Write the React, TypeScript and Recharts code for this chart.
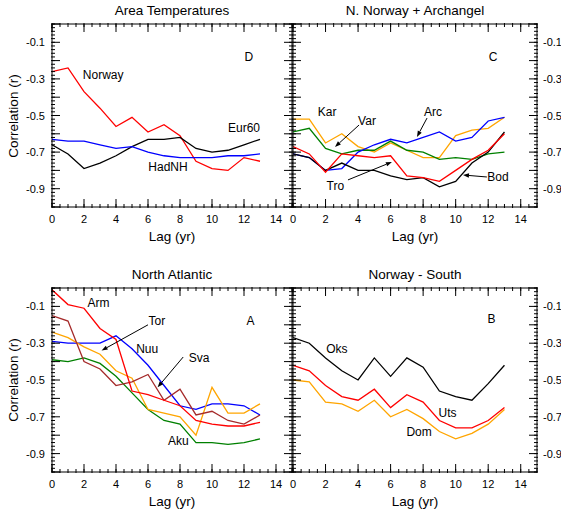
import React from 'react';
import { LineChart, Line, XAxis, YAxis, ReferenceDot, ReferenceLine } from 'recharts';

const W = 561;
const H = 509;
const FONT = '"Liberation Sans", Arial, Helvetica, sans-serif';

const lags = [0, 1, 2, 3, 4, 5, 6, 7, 8, 9, 10, 11, 12, 13];

// Panel D - Area Temperatures
const dNorway = [-0.26, -0.24, -0.37, -0.46, -0.56, -0.51, -0.59, -0.55, -0.61, -0.75, -0.79, -0.8, -0.73, -0.75];
const dEur60 = [-0.66, -0.71, -0.79, -0.76, -0.72, -0.67, -0.63, -0.63, -0.62, -0.68, -0.7, -0.69, -0.66, -0.63];
const dHadNH = [-0.63, -0.64, -0.64, -0.66, -0.68, -0.67, -0.7, -0.72, -0.73, -0.73, -0.73, -0.72, -0.72, -0.71];

// Panel C - N. Norway + Archangel
const cKar = [-0.52, -0.52, -0.65, -0.6, -0.67, -0.7, -0.65, -0.69, -0.73, -0.73, -0.61, -0.58, -0.57, -0.51];
const cVar = [-0.59, -0.57, -0.68, -0.71, -0.69, -0.69, -0.64, -0.69, -0.7, -0.74, -0.73, -0.74, -0.71, -0.7];
const cArc = [-0.71, -0.73, -0.8, -0.79, -0.7, -0.66, -0.63, -0.65, -0.62, -0.59, -0.64, -0.62, -0.53, -0.51];
const cTro = [-0.67, -0.71, -0.81, -0.71, -0.72, -0.73, -0.72, -0.83, -0.84, -0.86, -0.8, -0.74, -0.69, -0.6];
const cBod = [-0.71, -0.73, -0.8, -0.76, -0.8, -0.8, -0.83, -0.85, -0.84, -0.89, -0.86, -0.76, -0.7, -0.59];

// Panel A - North Atlantic
const aArm = [-0.01, -0.09, -0.11, -0.22, -0.28, -0.56, -0.58, -0.61, -0.64, -0.72, -0.74, -0.75, -0.75, -0.73];
const aTor = [-0.24, -0.27, -0.32, -0.36, -0.45, -0.49, -0.66, -0.68, -0.7, -0.8, -0.54, -0.68, -0.68, -0.63];
const aNuu = [-0.29, -0.3, -0.3, -0.3, -0.26, -0.33, -0.42, -0.53, -0.64, -0.66, -0.63, -0.63, -0.64, -0.69];
const aSva = [-0.15, -0.18, -0.4, -0.44, -0.53, -0.51, -0.47, -0.61, -0.55, -0.69, -0.67, -0.72, -0.74, -0.69];
const aAku = [-0.39, -0.4, -0.38, -0.41, -0.48, -0.57, -0.66, -0.72, -0.74, -0.84, -0.84, -0.85, -0.84, -0.82];

// Panel B - Norway - South
const bOks = [-0.27, -0.3, -0.38, -0.45, -0.5, -0.38, -0.48, -0.38, -0.43, -0.56, -0.59, -0.61, -0.52, -0.42];
const bUts = [-0.42, -0.45, -0.53, -0.59, -0.61, -0.55, -0.65, -0.58, -0.62, -0.72, -0.76, -0.76, -0.72, -0.65];
const bDom = [-0.5, -0.51, -0.62, -0.63, -0.67, -0.61, -0.7, -0.66, -0.71, -0.78, -0.82, -0.79, -0.74, -0.66];

// Axis ticks and labels
const xMajorTicks = [0, 2, 4, 6, 8, 10, 12, 14];
const xMinorTicks = Array.from({ length: 31 }, (_, i) => i * 0.5);
const xTickLabels = [0, 2, 4, 6, 8, 10, 12, 14];
const yMajorTicks = Array.from({ length: 11 }, (_, i) => -i / 10);
const yMinorTicks = Array.from({ length: 51 }, (_, i) => -i / 50);
const yTickLabels = [-0.1, -0.3, -0.5, -0.7, -0.9];

const RED = '#ff0000';
const BLUE = '#0000ff';
const BLACK = '#000000';
const GREEN = '#008000';
const ORANGE = '#ffa500';
const BROWN = '#a52a2a';

type Series = { key: string; values: number[]; color: string };
type Note = { text: string; x: number; y: number };
type Arrow = { from: [number, number]; to: [number, number] };

type PanelDef = {
  title: string;
  box: { x0: number; x1: number; y0: number; y1: number };
  series: Series[];
  notes: Note[];
  arrows: Arrow[];
  leftLabels: boolean;
  rightLabels: boolean;
};

const panels: PanelDef[] = [
  {
    title: 'Area Temperatures',
    box: { x0: 52, x1: 292, y0: 24, y1: 207 },
    series: [
      { key: 'Norway', values: dNorway, color: RED },
      { key: 'Eur60', values: dEur60, color: BLACK },
      { key: 'HadNH', values: dHadNH, color: BLUE },
    ],
    notes: [
      { text: 'D', x: 12.3, y: -0.18 },
      { text: 'Norway', x: 3.2, y: -0.28 },
      { text: 'HadNH', x: 7.25, y: -0.78 },
      { text: 'Eur60', x: 12.0, y: -0.57 },
    ],
    arrows: [],
    leftLabels: true,
    rightLabels: false,
  },
  {
    title: 'N. Norway + Archangel',
    box: { x0: 293, x1: 537, y0: 24, y1: 207 },
    series: [
      { key: 'Kar', values: cKar, color: ORANGE },
      { key: 'Var', values: cVar, color: GREEN },
      { key: 'Arc', values: cArc, color: BLUE },
      { key: 'Bod', values: cBod, color: BLACK },
      { key: 'Tro', values: cTro, color: RED },
    ],
    notes: [
      { text: 'C', x: 12.3, y: -0.18 },
      { text: 'Kar', x: 2.1, y: -0.48 },
      { text: 'Var', x: 4.55, y: -0.53 },
      { text: 'Arc', x: 8.6, y: -0.48 },
      { text: 'Tro', x: 2.6, y: -0.885 },
      { text: 'Bod', x: 12.6, y: -0.836 },
    ],
    arrows: [
      { from: [4.06, -0.552], to: [2.58, -0.672] },
      { from: [8.24, -0.514], to: [7.62, -0.617] },
      { from: [3.38, -0.852], to: [6.08, -0.754] },
      { from: [11.92, -0.836], to: [10.45, -0.825] },
    ],
    leftLabels: false,
    rightLabels: true,
  },
  {
    title: 'North Atlantic',
    box: { x0: 52, x1: 292, y0: 288, y1: 472 },
    series: [
      { key: 'Aku', values: aAku, color: GREEN },
      { key: 'Nuu', values: aNuu, color: BLUE },
      { key: 'Tor', values: aTor, color: ORANGE },
      { key: 'Sva', values: aSva, color: BROWN },
      { key: 'Arm', values: aArm, color: RED },
    ],
    notes: [
      { text: 'A', x: 12.4, y: -0.18 },
      { text: 'Arm', x: 2.9, y: -0.08 },
      { text: 'Tor', x: 6.55, y: -0.18 },
      { text: 'Nuu', x: 5.95, y: -0.33 },
      { text: 'Sva', x: 9.2, y: -0.38 },
      { text: 'Aku', x: 7.9, y: -0.83 },
    ],
    arrows: [
      { from: [6.0, -0.2], to: [3.1, -0.34] },
      { from: [8.2, -0.375], to: [6.6, -0.54] },
    ],
    leftLabels: true,
    rightLabels: false,
  },
  {
    title: 'Norway - South',
    box: { x0: 293, x1: 537, y0: 288, y1: 472 },
    series: [
      { key: 'Oks', values: bOks, color: BLACK },
      { key: 'Dom', values: bDom, color: ORANGE },
      { key: 'Uts', values: bUts, color: RED },
    ],
    notes: [
      { text: 'B', x: 12.2, y: -0.17 },
      { text: 'Oks', x: 2.7, y: -0.33 },
      { text: 'Uts', x: 9.5, y: -0.68 },
      { text: 'Dom', x: 7.75, y: -0.78 },
    ],
    arrows: [],
    leftLabels: false,
    rightLabels: true,
  },
];

const near = (a: number, b: number) => Math.abs(a - b) < 1e-6;

const makeTick = (labels: number[], fmt: (v: number) => string, baseline: string) => (props: any) => {
  const { x, y, payload, textAnchor } = props;
  const v = payload.value;
  if (!labels.some((l) => near(l, v))) return <g />;
  return (
    <text x={x} y={y} textAnchor={textAnchor} dominantBaseline={baseline} fontSize={11} fontFamily={FONT} fill="#000">
      {fmt(v)}
    </text>
  );
};

const emptyTick = () => <g />;

const arrowShape = (p: any) => {
  const { x1, y1, x2, y2 } = p;
  const ang = Math.atan2(y2 - y1, x2 - x1);
  const len = 6;
  const half = 2.2;
  const bx = x2 - len * Math.cos(ang);
  const by = y2 - len * Math.sin(ang);
  const px = -Math.sin(ang) * half;
  const py = Math.cos(ang) * half;
  return (
    <g>
      <line x1={x1} y1={y1} x2={bx} y2={by} stroke="#000" strokeWidth={1} />
      <polygon points={`${x2},${y2} ${bx + px},${by + py} ${bx - px},${by - py}`} fill="#000" />
    </g>
  );
};

const AX = 1; // thickness reserved by each axis

function Panel({ def }: { def: PanelDef }) {
  const { box } = def;
  const data = lags.map((lag, i) => {
    const row: Record<string, number> = { lag };
    def.series.forEach((s) => {
      row[s.key] = s.values[i];
    });
    return row;
  });
  const margin = {
    left: box.x0 - 2 * AX,
    right: W - box.x1 - 2 * AX,
    top: box.y0 - 2 * AX,
    bottom: H - box.y1 - 2 * AX,
  };
  const fmtY = (v: number) => v.toFixed(1);
  const fmtX = (v: number) => String(v);
  return (
    <div style={{ position: 'absolute', left: 0, top: 0, width: W, height: H }}>
      <LineChart width={W} height={H} data={data} margin={margin}>
        <XAxis xAxisId="xb" dataKey="lag" type="number" domain={[0, 15]} allowDataOverflow orientation="bottom"
          height={AX} ticks={xMajorTicks} interval={0} tickSize={-8} tickMargin={19.5} stroke="#000"
          tickLine={{ stroke: '#000' }} axisLine={{ stroke: '#000' }}
          tick={makeTick(xTickLabels, fmtX, 'central')} />
        <XAxis xAxisId="xbm" dataKey="lag" type="number" domain={[0, 15]} allowDataOverflow orientation="bottom"
          height={AX} ticks={xMinorTicks} interval={0} tickSize={-4} stroke="#000"
          tickLine={{ stroke: '#000' }} axisLine={false} tick={emptyTick} />
        <XAxis xAxisId="xt" dataKey="lag" type="number" domain={[0, 15]} allowDataOverflow orientation="top"
          height={AX} ticks={xMajorTicks} interval={0} tickSize={-8} stroke="#000"
          tickLine={{ stroke: '#000' }} axisLine={{ stroke: '#000' }} tick={emptyTick} />
        <XAxis xAxisId="xtm" dataKey="lag" type="number" domain={[0, 15]} allowDataOverflow orientation="top"
          height={AX} ticks={xMinorTicks} interval={0} tickSize={-4} stroke="#000"
          tickLine={{ stroke: '#000' }} axisLine={false} tick={emptyTick} />
        <YAxis yAxisId="yl" type="number" domain={[-1, 0]} allowDataOverflow orientation="left" width={AX}
          ticks={yMajorTicks} interval={0} tickSize={-8} tickMargin={15} stroke="#000"
          tickLine={{ stroke: '#000' }} axisLine={{ stroke: '#000' }}
          tick={def.leftLabels ? makeTick(yTickLabels, fmtY, 'central') : emptyTick} />
        <YAxis yAxisId="ylm" type="number" domain={[-1, 0]} allowDataOverflow orientation="left" width={AX}
          ticks={yMinorTicks} interval={0} tickSize={-4} stroke="#000"
          tickLine={{ stroke: '#000' }} axisLine={false} tick={emptyTick} />
        <YAxis yAxisId="yr" type="number" domain={[-1, 0]} allowDataOverflow orientation="right" width={AX}
          ticks={yMajorTicks} interval={0} tickSize={-8} tickMargin={14} stroke="#000"
          tickLine={{ stroke: '#000' }} axisLine={{ stroke: '#000' }}
          tick={def.rightLabels ? makeTick(yTickLabels, fmtY, 'central') : emptyTick} />
        <YAxis yAxisId="yrm" type="number" domain={[-1, 0]} allowDataOverflow orientation="right" width={AX}
          ticks={yMinorTicks} interval={0} tickSize={-4} stroke="#000"
          tickLine={{ stroke: '#000' }} axisLine={false} tick={emptyTick} />
        {def.series.map((s) => (
          <Line key={s.key} xAxisId="xb" yAxisId="yl" type="linear" dataKey={s.key} stroke={s.color}
            strokeWidth={1.3} dot={false} activeDot={false} isAnimationActive={false} />
        ))}
        {def.arrows.map((a, i) => (
          <ReferenceLine key={'a' + i} xAxisId="xb" yAxisId="yl"
            segment={[{ x: a.from[0], y: a.from[1] }, { x: a.to[0], y: a.to[1] }]}
            shape={arrowShape} />
        ))}
        {def.notes.map((n) => (
          <ReferenceDot key={n.text} xAxisId="xb" yAxisId="yl" x={n.x} y={n.y} r={1}
            shape={(p: any) => (
              <text x={p.cx} y={p.cy} textAnchor="middle" dominantBaseline="central" fontSize={12}
                fontFamily={FONT} fill="#000">{n.text}</text>
            )} />
        ))}
      </LineChart>
      <div style={{ position: 'absolute', left: (box.x0 + box.x1) / 2 - 150, width: 300, top: box.y0 - 21,
        textAlign: 'center', fontFamily: FONT, fontSize: 13.5, lineHeight: '16px', color: '#000' }}>
        {def.title}
      </div>
      <div style={{ position: 'absolute', left: (box.x0 + box.x1) / 2 - 100, width: 200, top: box.y1 + 22,
        textAlign: 'center', fontFamily: FONT, fontSize: 13.5, lineHeight: '16px', color: '#000' }}>
        Lag (yr)
      </div>
      {def.leftLabels && (
        <div style={{ position: 'absolute', left: 14 - 100, width: 200, top: (box.y0 + box.y1) / 2 - 8,
          height: 16, textAlign: 'center', fontFamily: FONT, fontSize: 13.5, lineHeight: '16px', color: '#000',
          transform: 'rotate(-90deg)', transformOrigin: '100px 8px' }}>
          Correlation (r)
        </div>
      )}
    </div>
  );
}

export default function App() {
  return (
    <div style={{ position: 'absolute', left: 0, top: 0, width: W, height: H, background: '#fff' }}>
      {panels.map((p) => (
        <Panel key={p.title} def={p} />
      ))}
    </div>
  );
}
